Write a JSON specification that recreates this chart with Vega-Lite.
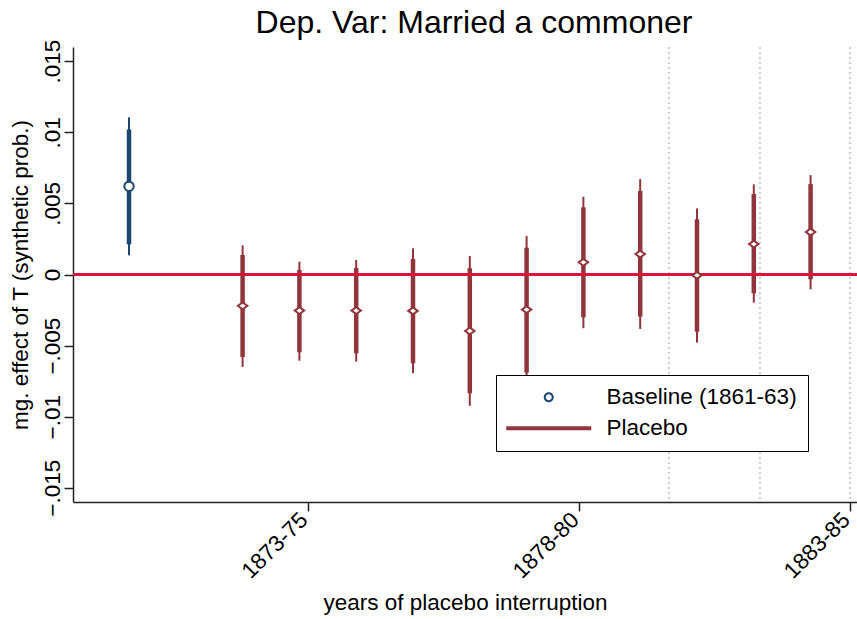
{
  "$schema": "https://vega.github.io/schema/vega-lite/v6.json",
  "width": 784,
  "height": 455,
  "autosize": {"type": "none"},
  "padding": {"left": 73, "top": 47, "right": 0, "bottom": 117},
  "background": "white",
  "config": {
    "view": {"stroke": null},
    "font": "Liberation Sans",
    "axis": {
      "grid": false,
      "labelFont": "Liberation Sans",
      "titleFont": "Liberation Sans",
      "labelFontSize": 22.5,
      "titleFontSize": 22.5,
      "titleFontWeight": "normal",
      "labelColor": "black",
      "titleColor": "black",
      "domainColor": "#222222",
      "tickColor": "#222222",
      "domainWidth": 1.5,
      "tickWidth": 1.5,
      "tickSize": 9
    },
    "legend": {
      "orient": "none", "legendX": 423, "legendY": 328, "title": null, "direction": "vertical",
      "padding": 11, "rowPadding": 8, "strokeColor": "black", "fillColor": "white",
      "symbolSize": 400, "symbolStrokeWidth": 0, "symbolOpacity": 1, "symbolOffset": 30.5, "labelOffset": 46.5,
      "labelFontSize": 22.5, "labelFont": "Liberation Sans", "labelColor": "black", "labelLimit": 0
    }
  },
  "title": {
    "text": "Dep. Var: Married a commoner",
    "fontSize": 32,
    "font": "Liberation Sans",
    "fontWeight": "normal",
    "color": "black",
    "anchor": "middle",
    "dx": 9,
    "offset": -1
  },
  "datasets": {
    "est": [
      {"series": "Baseline (1861-63)", "pos": 0, "est": 0.0062, "lo90": 0.00212, "hi90": 0.0102, "lo95": 0.00135, "hi95": 0.01105},
      {"series": "Placebo", "pos": 2, "est": -0.0022, "lo90": -0.0058, "hi90": 0.00137, "lo95": -0.0065, "hi95": 0.00205},
      {"series": "Placebo", "pos": 3, "est": -0.00254, "lo90": -0.00547, "hi90": 0.00032, "lo95": -0.00606, "hi95": 0.0009},
      {"series": "Placebo", "pos": 4, "est": -0.00254, "lo90": -0.00554, "hi90": 0.00046, "lo95": -0.00613, "hi95": 0.00102},
      {"series": "Placebo", "pos": 5, "est": -0.00256, "lo90": -0.00624, "hi90": 0.00109, "lo95": -0.00694, "hi95": 0.00184},
      {"series": "Placebo", "pos": 6, "est": -0.00397, "lo90": -0.00835, "hi90": 0.00044, "lo95": -0.00924, "hi95": 0.0013},
      {"series": "Placebo", "pos": 7, "est": -0.00247, "lo90": -0.0069, "hi90": 0.00188, "lo95": -0.0076, "hi95": 0.0027},
      {"series": "Placebo", "pos": 8, "est": 0.00086, "lo90": -0.00301, "hi90": 0.00472, "lo95": -0.00378, "hi95": 0.00547},
      {"series": "Placebo", "pos": 9, "est": 0.00144, "lo90": -0.00296, "hi90": 0.00587, "lo95": -0.00383, "hi95": 0.00671},
      {"series": "Placebo", "pos": 10, "est": -0.00006, "lo90": -0.00402, "hi90": 0.00388, "lo95": -0.00479, "hi95": 0.00465},
      {"series": "Placebo", "pos": 11, "est": 0.00214, "lo90": -0.00132, "hi90": 0.00566, "lo95": -0.00198, "hi95": 0.00634},
      {"series": "Placebo", "pos": 12, "est": 0.00299, "lo90": -0.00034, "hi90": 0.00636, "lo95": -0.00104, "hi95": 0.00699}
    ],
    "refs": [{"v": 9.507}, {"v": 11.109}, {"v": 12.694}]
  },
  "data": {"name": "est"},
  "layer": [
    {
      "data": {"name": "refs"},
      "mark": {"type": "rule", "color": "#b0b0b0", "strokeWidth": 1.2, "strokeDash": [2, 3]},
      "encoding": {
        "x": {"field": "v", "type": "quantitative", "scale": {"domain": [-0.986, 12.817], "nice": false, "zero": false},
          "axis": {"title": "years of placebo interruption", "values": [3.146, 7.923, 12.694], "labelExpr": "datum.value < 5 ? '1873-75' : (datum.value < 10 ? '1878-80' : '1883-85')", "labelAngle": -45, "labelAlign": "right", "labelBaseline": "middle", "labelPadding": 5, "labelOffset": -4, "titlePadding": 9}}
      }
    },
    {
      "mark": {"type": "rule", "strokeWidth": 2},
      "encoding": {
        "x": {"field": "pos", "type": "quantitative", "scale": {"domain": [-0.986, 12.817], "nice": false, "zero": false},
          "axis": {"title": "years of placebo interruption", "values": [3.146, 7.923, 12.694], "labelExpr": "datum.value < 5 ? '1873-75' : (datum.value < 10 ? '1878-80' : '1883-85')", "labelAngle": -45, "labelAlign": "right", "labelBaseline": "middle", "labelPadding": 5, "labelOffset": -4, "titlePadding": 9}},
        "y": {"field": "lo95", "type": "quantitative", "scale": {"domain": [-0.016, 0.016], "nice": false, "zero": false},
          "axis": {"title": "mg. effect of T (synthetic prob.)", "values": [-0.015, -0.01, -0.005, 0, 0.005, 0.01, 0.015], "labelExpr": "datum.value == 0 ? '0' : replace(format(datum.value, '.3~f'), '0.', '.')", "labelAngle": -90, "labelAlign": "center", "labelBaseline": "alphabetic", "labelPadding": 5, "titlePadding": 9}},
        "y2": {"field": "hi95"},
        "color": {"field": "series", "type": "nominal", "scale": {"domain": ["Baseline (1861-63)", "Placebo"], "range": ["#1a476f", "#90353b"]}}
      }
    },
    {
      "mark": {"type": "rule", "strokeWidth": 4.5},
      "encoding": {
        "x": {"field": "pos", "type": "quantitative", "scale": {"domain": [-0.986, 12.817], "nice": false, "zero": false},
          "axis": {"title": "years of placebo interruption", "values": [3.146, 7.923, 12.694], "labelExpr": "datum.value < 5 ? '1873-75' : (datum.value < 10 ? '1878-80' : '1883-85')", "labelAngle": -45, "labelAlign": "right", "labelBaseline": "middle", "labelPadding": 5, "labelOffset": -4, "titlePadding": 9}},
        "y": {"field": "lo90", "type": "quantitative", "scale": {"domain": [-0.016, 0.016], "nice": false, "zero": false},
          "axis": {"title": "mg. effect of T (synthetic prob.)", "values": [-0.015, -0.01, -0.005, 0, 0.005, 0.01, 0.015], "labelExpr": "datum.value == 0 ? '0' : replace(format(datum.value, '.3~f'), '0.', '.')", "labelAngle": -90, "labelAlign": "center", "labelBaseline": "alphabetic", "labelPadding": 5, "titlePadding": 9}},
        "y2": {"field": "hi90"},
        "color": {"field": "series", "type": "nominal", "scale": {"domain": ["Baseline (1861-63)", "Placebo"], "range": ["#1a476f", "#90353b"]}}
      }
    },
    {
      "mark": {"type": "rule", "color": "#dc143c", "strokeWidth": 2},
      "encoding": {
        "y": {"datum": 0, "type": "quantitative", "scale": {"domain": [-0.016, 0.016], "nice": false, "zero": false},
          "axis": {"title": "mg. effect of T (synthetic prob.)", "values": [-0.015, -0.01, -0.005, 0, 0.005, 0.01, 0.015], "labelExpr": "datum.value == 0 ? '0' : replace(format(datum.value, '.3~f'), '0.', '.')", "labelAngle": -90, "labelAlign": "center", "labelBaseline": "alphabetic", "labelPadding": 5, "titlePadding": 9}}
      }
    },
    {
      "transform": [{"filter": "datum.series === 'Baseline (1861-63)'"}],
      "mark": {"type": "point", "shape": "circle", "filled": false, "fill": "white", "strokeWidth": 2, "size": 88, "opacity": 1},
      "encoding": {
        "x": {"field": "pos", "type": "quantitative", "scale": {"domain": [-0.986, 12.817], "nice": false, "zero": false},
          "axis": {"title": "years of placebo interruption", "values": [3.146, 7.923, 12.694], "labelExpr": "datum.value < 5 ? '1873-75' : (datum.value < 10 ? '1878-80' : '1883-85')", "labelAngle": -45, "labelAlign": "right", "labelBaseline": "middle", "labelPadding": 5, "labelOffset": -4, "titlePadding": 9}},
        "y": {"field": "est", "type": "quantitative", "scale": {"domain": [-0.016, 0.016], "nice": false, "zero": false},
          "axis": {"title": "mg. effect of T (synthetic prob.)", "values": [-0.015, -0.01, -0.005, 0, 0.005, 0.01, 0.015], "labelExpr": "datum.value == 0 ? '0' : replace(format(datum.value, '.3~f'), '0.', '.')", "labelAngle": -90, "labelAlign": "center", "labelBaseline": "alphabetic", "labelPadding": 5, "titlePadding": 9}},
        "color": {"field": "series", "type": "nominal", "scale": {"domain": ["Baseline (1861-63)", "Placebo"], "range": ["#1a476f", "#90353b"]}}
      }
    },
    {
      "transform": [{"filter": "datum.series === 'Placebo'"}],
      "mark": {"type": "point", "shape": "M-1,0L0,-0.72L1,0L0,0.72Z", "filled": false, "fill": "white", "strokeWidth": 2, "size": 90, "opacity": 1},
      "encoding": {
        "x": {"field": "pos", "type": "quantitative", "scale": {"domain": [-0.986, 12.817], "nice": false, "zero": false},
          "axis": {"title": "years of placebo interruption", "values": [3.146, 7.923, 12.694], "labelExpr": "datum.value < 5 ? '1873-75' : (datum.value < 10 ? '1878-80' : '1883-85')", "labelAngle": -45, "labelAlign": "right", "labelBaseline": "middle", "labelPadding": 5, "labelOffset": -4, "titlePadding": 9}},
        "y": {"field": "est", "type": "quantitative", "scale": {"domain": [-0.016, 0.016], "nice": false, "zero": false},
          "axis": {"title": "mg. effect of T (synthetic prob.)", "values": [-0.015, -0.01, -0.005, 0, 0.005, 0.01, 0.015], "labelExpr": "datum.value == 0 ? '0' : replace(format(datum.value, '.3~f'), '0.', '.')", "labelAngle": -90, "labelAlign": "center", "labelBaseline": "alphabetic", "labelPadding": 5, "titlePadding": 9}},
        "color": {"field": "series", "type": "nominal", "scale": {"domain": ["Baseline (1861-63)", "Placebo"], "range": ["#1a476f", "#90353b"]}}
      }
    },
    {
      "mark": {"type": "point", "filled": true, "opacity": 0, "size": 400, "strokeWidth": 0},
      "encoding": {
        "x": {"field": "pos", "type": "quantitative", "scale": {"domain": [-0.986, 12.817], "nice": false, "zero": false},
          "axis": {"title": "years of placebo interruption", "values": [3.146, 7.923, 12.694], "labelExpr": "datum.value < 5 ? '1873-75' : (datum.value < 10 ? '1878-80' : '1883-85')", "labelAngle": -45, "labelAlign": "right", "labelBaseline": "middle", "labelPadding": 5, "labelOffset": -4, "titlePadding": 9}},
        "y": {"field": "est", "type": "quantitative", "scale": {"domain": [-0.016, 0.016], "nice": false, "zero": false},
          "axis": {"title": "mg. effect of T (synthetic prob.)", "values": [-0.015, -0.01, -0.005, 0, 0.005, 0.01, 0.015], "labelExpr": "datum.value == 0 ? '0' : replace(format(datum.value, '.3~f'), '0.', '.')", "labelAngle": -90, "labelAlign": "center", "labelBaseline": "alphabetic", "labelPadding": 5, "titlePadding": 9}},
        "shape": {"field": "series", "type": "nominal", "scale": {"domain": ["Baseline (1861-63)", "Placebo"], "range": ["M0.5,0A0.5,0.5 0 1,1 -0.5,0A0.5,0.5 0 1,1 0.5,0ZM0.3,0A0.3,0.3 0 1,0 -0.3,0A0.3,0.3 0 1,0 0.3,0Z", "M-4.25,-0.2L4.25,-0.2L4.25,0.2L-4.25,0.2Z"]}, "legend": null},
        "color": {"field": "series", "type": "nominal", "scale": {"domain": ["Baseline (1861-63)", "Placebo"], "range": ["#1a476f", "#90353b"]},
          "legend": {
            "orient": "none", "legendX": 423, "legendY": 328, "title": null, "direction": "vertical",
            "padding": 11, "rowPadding": 8, "strokeColor": "black", "fillColor": "white",
            "symbolSize": 400, "symbolStrokeWidth": 0, "symbolOpacity": 1, "symbolOffset": 30.5, "labelOffset": 46.5,
            "labelFontSize": 22.5, "labelFont": "Liberation Sans", "labelColor": "black", "labelLimit": 0
          }}
      }
    }
  ]
}
